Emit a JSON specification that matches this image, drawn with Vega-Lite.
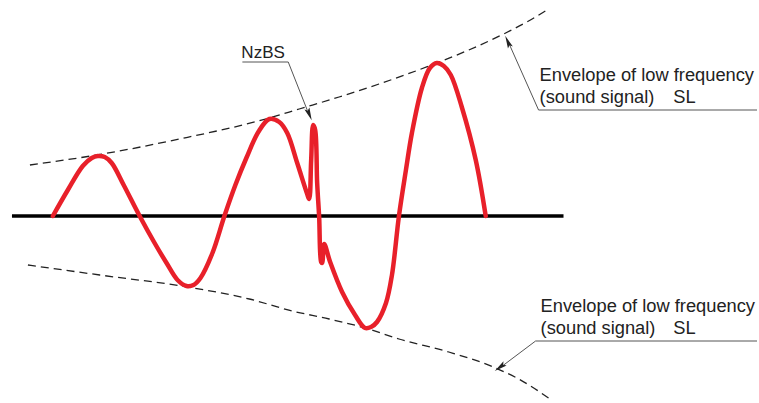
{
  "$schema": "https://vega.github.io/schema/vega-lite/v6.json",
  "width": 759,
  "height": 403,
  "autosize": {"type": "fit", "contains": "padding"},
  "padding": 0,
  "background": "white",
  "config": {"view": {"stroke": null}, "text": {"font": "Liberation Sans"}},
  "datasets": {
    "base": [{"x": 12, "y": 216, "i": 0}, {"x": 565, "y": 216, "i": 1}],
    "env": [
      {"id": "up", "i": 0, "x": 30, "y": 165}, {"id": "up", "i": 1, "x": 97, "y": 155}, {"id": "up", "i": 2, "x": 180, "y": 139},
      {"id": "up", "i": 3, "x": 270, "y": 118}, {"id": "up", "i": 4, "x": 300, "y": 109}, {"id": "up", "i": 5, "x": 340, "y": 97},
      {"id": "up", "i": 6, "x": 380, "y": 84}, {"id": "up", "i": 7, "x": 438, "y": 63}, {"id": "up", "i": 8, "x": 470, "y": 50},
      {"id": "up", "i": 9, "x": 507, "y": 33}, {"id": "up", "i": 10, "x": 530, "y": 21}, {"id": "up", "i": 11, "x": 550, "y": 9},
      {"id": "lo", "i": 0, "x": 28, "y": 265}, {"id": "lo", "i": 1, "x": 100, "y": 275}, {"id": "lo", "i": 2, "x": 188, "y": 287},
      {"id": "lo", "i": 3, "x": 250, "y": 299}, {"id": "lo", "i": 4, "x": 293, "y": 311}, {"id": "lo", "i": 5, "x": 330, "y": 319},
      {"id": "lo", "i": 6, "x": 366, "y": 328}, {"id": "lo", "i": 7, "x": 400, "y": 339}, {"id": "lo", "i": 8, "x": 450, "y": 352},
      {"id": "lo", "i": 9, "x": 497, "y": 368}, {"id": "lo", "i": 10, "x": 520, "y": 379}, {"id": "lo", "i": 11, "x": 553, "y": 400}
    ],
    "signal": [
      {"i": 0, "x": 53, "y": 216}, {"i": 1, "x": 68, "y": 190}, {"i": 2, "x": 83, "y": 166}, {"i": 3, "x": 92, "y": 158},
      {"i": 4, "x": 98, "y": 156}, {"i": 5, "x": 105, "y": 157}, {"i": 6, "x": 112, "y": 163}, {"i": 7, "x": 124, "y": 185},
      {"i": 8, "x": 140, "y": 216}, {"i": 9, "x": 155, "y": 243}, {"i": 10, "x": 167, "y": 263}, {"i": 11, "x": 178, "y": 280},
      {"i": 12, "x": 187, "y": 286}, {"i": 13, "x": 194, "y": 285}, {"i": 14, "x": 201, "y": 278}, {"i": 15, "x": 213, "y": 253},
      {"i": 16, "x": 225, "y": 216}, {"i": 17, "x": 236, "y": 185}, {"i": 18, "x": 247, "y": 158}, {"i": 19, "x": 259, "y": 132},
      {"i": 20, "x": 270, "y": 119}, {"i": 21, "x": 280, "y": 122}, {"i": 22, "x": 288, "y": 133}, {"i": 23, "x": 298, "y": 163},
      {"i": 24, "x": 308, "y": 194}, {"i": 25, "x": 310, "y": 199}, {"i": 26, "x": 312, "y": 160}, {"i": 27, "x": 314, "y": 125},
      {"i": 28, "x": 316, "y": 130}, {"i": 29, "x": 318, "y": 183}, {"i": 30, "x": 320, "y": 217}, {"i": 31, "x": 322, "y": 262},
      {"i": 32, "x": 323, "y": 263}, {"i": 33, "x": 325, "y": 244}, {"i": 34, "x": 331, "y": 262}, {"i": 35, "x": 343, "y": 292},
      {"i": 36, "x": 356, "y": 315}, {"i": 37, "x": 366, "y": 328}, {"i": 38, "x": 372, "y": 327}, {"i": 39, "x": 378, "y": 322},
      {"i": 40, "x": 387, "y": 303}, {"i": 41, "x": 393, "y": 275}, {"i": 42, "x": 400, "y": 216}, {"i": 43, "x": 407, "y": 170},
      {"i": 44, "x": 413, "y": 133}, {"i": 45, "x": 423, "y": 88}, {"i": 46, "x": 431, "y": 68}, {"i": 47, "x": 438, "y": 63},
      {"i": 48, "x": 445, "y": 66}, {"i": 49, "x": 452, "y": 75}, {"i": 50, "x": 463, "y": 107}, {"i": 51, "x": 477, "y": 160},
      {"i": 52, "x": 487, "y": 216}
    ],
    "leaders": [
      {"id": "a1", "i": 0, "x": 243, "y": 62}, {"id": "a1", "i": 1, "x": 289, "y": 62}, {"id": "a1", "i": 2, "x": 308, "y": 110},
      {"id": "a2", "i": 0, "x": 759, "y": 110}, {"id": "a2", "i": 1, "x": 540, "y": 110}, {"id": "a2", "i": 2, "x": 511, "y": 45},
      {"id": "a3", "i": 0, "x": 759, "y": 341}, {"id": "a3", "i": 1, "x": 537, "y": 341}, {"id": "a3", "i": 2, "x": 505, "y": 365}
    ],
    "heads": [
      {"id": "a1", "x": 310, "y": 114},
      {"id": "a2", "x": 509.3, "y": 42},
      {"id": "a3", "x": 501.5, "y": 367}
    ],
    "labels": [
      {"x": 541, "y": 81, "label": "Envelope of low frequency"},
      {"x": 541, "y": 103, "label": "(sound signal)"},
      {"x": 675, "y": 103, "label": "SL"},
      {"x": 542, "y": 312, "label": "Envelope of low frequency"},
      {"x": 542, "y": 334, "label": "(sound signal)"},
      {"x": 675, "y": 334, "label": "SL"}
    ],
    "tags": [{"x": 242, "y": 58, "label": "NzBS"}]
  },
  "encoding": {
    "x": {"field": "x", "type": "quantitative", "scale": {"domain": [0, 759], "nice": false, "zero": false}, "axis": null},
    "y": {"field": "y", "type": "quantitative", "scale": {"domain": [0, 403], "reverse": true, "nice": false, "zero": false}, "axis": null}
  },
  "layer": [
    {
      "data": {"name": "env"},
      "mark": {"type": "line", "color": "#222", "strokeWidth": 1.3, "strokeDash": [8, 5], "interpolate": "monotone"},
      "encoding": {"detail": {"field": "id"}, "order": {"field": "i"}}
    },
    {
      "data": {"name": "base"},
      "mark": {"type": "line", "color": "#000", "strokeWidth": 3.5, "strokeCap": "butt"},
      "encoding": {"order": {"field": "i"}}
    },
    {
      "data": {"name": "signal"},
      "mark": {"type": "line", "color": "#e8202a", "strokeWidth": 4.5, "interpolate": "catmull-rom", "strokeJoin": "round", "strokeCap": "round"},
      "encoding": {"order": {"field": "i"}}
    },
    {
      "data": {"name": "leaders"},
      "mark": {"type": "line", "color": "#555", "strokeWidth": 1},
      "encoding": {"detail": {"field": "id"}, "order": {"field": "i"}}
    },
    {
      "data": {"name": "heads"},
      "transform": [{"filter": "datum.id == 'a1'"}],
      "mark": {"type": "point", "shape": "M0,-1L0.4,0.9L0,0.55L-0.4,0.9Z", "filled": true, "color": "#222", "size": 180, "angle": 158, "opacity": 1}
    },
    {
      "data": {"name": "heads"},
      "transform": [{"filter": "datum.id == 'a2'"}],
      "mark": {"type": "point", "shape": "M0,-1L0.4,0.9L0,0.55L-0.4,0.9Z", "filled": true, "color": "#222", "size": 180, "angle": 336, "opacity": 1}
    },
    {
      "data": {"name": "heads"},
      "transform": [{"filter": "datum.id == 'a3'"}],
      "mark": {"type": "point", "shape": "M0,-1L0.4,0.9L0,0.55L-0.4,0.9Z", "filled": true, "color": "#222", "size": 180, "angle": 234, "opacity": 1}
    },
    {
      "data": {"name": "labels"},
      "mark": {"type": "text", "align": "left", "baseline": "alphabetic", "fontSize": 18.3, "color": "#222"},
      "encoding": {"text": {"field": "label"}}
    },
    {
      "data": {"name": "tags"},
      "mark": {"type": "text", "align": "left", "baseline": "alphabetic", "fontSize": 17, "color": "#222"},
      "encoding": {"text": {"field": "label"}}
    }
  ]
}
